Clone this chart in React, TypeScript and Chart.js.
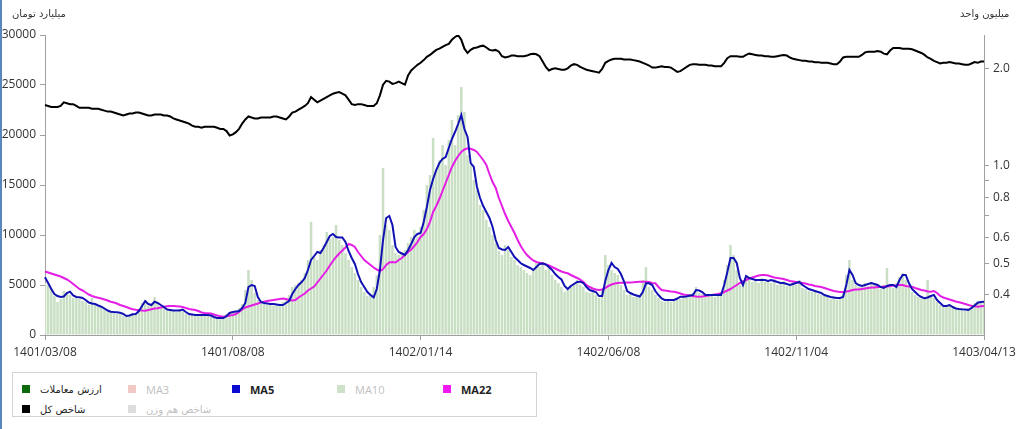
import React, { useEffect, useRef } from "react";
import { Chart, registerables } from "chart.js";

Chart.register(...registerables);

// X-axis tick labels (Jalali dates), evenly spaced over the series
const tickLabels = ["1401/03/08", "1401/08/08", "1402/01/14", "1402/06/08", "1402/11/04", "1403/04/13"];

// Trading value (billion toman)
const tradeValue = [
  5200, 5000, 4700, 3900, 3300, 3600, 4400, 4300, 4000, 3700,
  3900, 3600, 3400, 3300, 3000, 3700, 3000, 2800, 2700, 2600,
  2300, 2400, 2200, 2100, 2300, 1900, 1800, 2000, 2200, 2000,
  2600, 3200, 3500, 2900, 3100, 3800, 3300, 2800, 2700, 2400,
  2600, 2500, 2300, 2600, 2400, 2100, 2000, 2100, 1900, 2100,
  2000, 1900, 2100, 1800, 1700, 1700, 1600, 1800, 2100, 2300,
  2400, 2300, 2700, 3100, 4500, 6500, 5500, 4200, 3500, 3100,
  3300, 3000, 3200, 2900, 3100, 3000, 3300, 3500, 4000, 4800,
  5000, 5200, 5500, 6200, 7500, 11300, 7800, 7500, 8500, 9000,
  10300, 9600, 9800, 11000, 9500, 9000, 8200, 7500, 6800, 6200,
  5500, 4800, 4300, 3900, 4100, 4800, 6000, 10000, 16700, 11000,
  10500, 9000, 8200, 8000, 8300, 8500, 9200, 9800, 10500, 9800,
  10800, 12500, 15000, 16000, 19700, 16500, 17500, 19000, 17000, 19500,
  21500, 19000, 22000, 24800, 22300, 18000, 17000, 15500, 14500, 13000,
  12500, 11500, 10800, 10000, 9200, 8400, 8000, 9000, 8500, 7800,
  7500, 7000, 6800, 6500, 6200, 6000, 6500, 7200, 6800, 7300,
  6500, 6800, 6000, 5500, 5200, 4800, 4300, 4500, 5000, 5200,
  5500, 5000, 4800, 4300, 4200, 4400, 4000, 3700, 4500, 8000,
  7000, 6500, 6200, 6000, 5000, 4500, 4000, 4100, 3800, 3900,
  4000, 5500, 6800, 4800, 4500, 4000, 3700, 3400, 3300, 3600,
  3300, 3400, 3700, 3600, 3900, 3700, 4000, 4200, 4800, 4200,
  4100, 3800, 3900, 4100, 3800, 4000, 4200, 5500, 7000, 9000,
  8000, 6500, 5000, 5500, 6000, 5500, 5300, 5600, 5200, 5700,
  5300, 5500, 5200, 5600, 5000, 5100, 5400, 4900, 5000, 5300,
  5000, 5500, 4700, 4600, 4400, 4300, 4500, 4100, 4000, 3900,
  3800, 3600, 3700, 3500, 3800, 4200, 6000, 7500, 5500, 5000,
  4800, 5000, 5200, 4900, 5300, 5000, 4700, 4600, 5000, 6700,
  5000, 4700, 5200, 5800, 6200, 5500, 4800, 4300, 4000, 3800,
  3600, 3800, 5500, 4000, 3700, 3300, 3000, 2800, 3000, 2900,
  2700, 2600, 2500, 2600, 2400, 2700, 2900, 3200, 3400, 3200,
  3300,
];

// 5-day moving average of trading value
const ma5 = [
  5770, 5200, 4600, 4100, 3900, 3800, 3850, 4200, 4330, 3950,
  3800, 3770, 3700, 3500, 3250, 3150, 3100, 2950, 2830, 2650,
  2450, 2330, 2300, 2280, 2230, 2100, 1900, 1950, 2070, 2100,
  2400, 2900, 3400, 3100, 3000, 3330, 3200, 3000, 2800, 2550,
  2500, 2450, 2450, 2450, 2550, 2300, 2100, 2050, 2000, 2000,
  2000, 2000, 2000, 1950, 1800, 1700, 1700, 1700, 1900, 2200,
  2300, 2350, 2400, 2700, 3200, 4800, 5000, 4900, 3800, 3300,
  3200, 3150, 3100, 3100, 3050, 3000, 3000, 3200, 3400, 4100,
  4600, 5000, 5300, 5700, 6500, 7500, 7900, 8300, 8200, 8700,
  9300, 9900, 10100, 9800, 9750, 9750, 9300, 8400, 7700, 7100,
  6100, 5300, 4800, 4300, 4000, 3770, 4600, 6500, 9500, 11700,
  11900, 11000, 8800, 8300, 8150, 8000, 8500, 9100, 9800, 10100,
  10200, 11300, 12800, 14500, 15600, 16500, 17200, 17600, 17800, 18700,
  19600, 20300, 21100, 22000, 20600, 19800, 17200, 16800, 14800, 13700,
  12900, 12300, 11700, 10800, 9500, 8700, 8550, 8500, 8800, 8300,
  7800, 7500, 7170, 7000, 6850, 6700, 6500, 6800, 7100, 7150,
  7050, 6800, 6500, 6100, 5800, 5550, 4900, 4600, 4900, 5100,
  5300, 5330, 5200, 4800, 4500, 4400, 4300, 3900, 3900, 5400,
  6500, 7200, 6800, 6600, 6100, 5350, 4400, 4200, 4050, 3950,
  3850, 4300, 5170, 5170, 5000, 4400, 4000, 3650, 3500, 3500,
  3500, 3500, 3650, 3830, 3830, 3850, 3950, 4000, 4500, 4450,
  4300, 4000, 4000, 4000, 4000, 4000, 4000, 5000, 6300, 7700,
  7700, 7200, 5700, 5000, 5900, 5700, 5600, 5500, 5500, 5500,
  5500, 5400, 5500, 5400, 5300, 5200, 5200, 5100, 5000, 5100,
  5200, 5300, 5000, 4800, 4600, 4500, 4400, 4300, 4200, 4000,
  3900, 3800, 3750, 3700, 3700, 3800, 5000, 6500, 6000, 5200,
  5000, 4900, 5000, 5100, 5200, 5100, 5000, 4800, 4700, 4900,
  5000, 5000, 4800, 5500, 6000, 6000, 5200, 4600, 4300, 4000,
  3800, 3670, 3750, 3900, 4000, 3500, 3200, 2900, 2900, 3000,
  2800, 2650, 2600, 2570, 2550, 2500, 2700, 2950, 3230, 3300,
  3330,
];

// 22-day moving average of trading value
const ma22 = [
  6350, 6250, 6150, 6050, 5950, 5850, 5700, 5550, 5350, 5100,
  4850, 4600, 4450, 4250, 4050, 3900, 3800, 3730, 3650, 3550,
  3450, 3330, 3250, 3150, 3000, 2900, 2800, 2680, 2570, 2520,
  2480, 2450, 2430, 2500, 2580, 2640, 2680, 2750, 2820, 2870,
  2900, 2900, 2880, 2840, 2800, 2700, 2600, 2550, 2500, 2400,
  2250, 2200, 2180, 2150, 2050, 1950, 1880, 1830, 1880, 1950,
  2000, 2100, 2300, 2550, 2750, 2850, 2950, 3050, 3150, 3250,
  3330, 3400, 3450, 3500, 3550, 3600, 3650, 3600, 3500, 3450,
  3500, 3750, 3950, 4150, 4450, 4650, 4850, 5250, 5650, 6050,
  6450, 6950, 7400, 7800, 8150, 8450, 8750, 9100, 9000, 8800,
  8300, 7900, 7500, 7250, 7000, 6750, 6550, 6400, 6600, 7000,
  7250, 7300, 7250, 7500, 7700, 8000, 8300, 8550, 8900, 9300,
  9800, 10100, 10600, 11300, 12300, 12900, 13600, 14400, 15200, 16000,
  16800, 17400, 17900, 18300, 18550, 18670, 18620, 18500, 18300, 17900,
  17500, 17000, 16100, 15300, 14700, 13700, 12900, 12100, 11400, 10800,
  10200, 9500, 8900, 8400, 8000, 7700, 7450, 7300, 7220, 7180,
  7050, 6950, 6800, 6650, 6500, 6350, 6250, 6170, 6000, 5850,
  5700, 5550, 5300, 5000, 4800, 4650, 4550, 4500, 4550, 4700,
  4900, 5050, 5150, 5200, 5220, 5230, 5250, 5250, 5270, 5300,
  5320, 5330, 5330, 5300, 5200, 5170, 4800, 4500, 4450, 4400,
  4350, 4330, 4250, 4150, 4050, 4000, 3950, 3900, 3850, 3830,
  3850, 3900, 3950, 4000, 4050, 4100, 4170, 4300, 4450, 4600,
  4800, 5000, 5200, 5350, 5500, 5650, 5750, 5850, 5950, 6000,
  6000, 5950, 5850, 5750, 5700, 5650, 5600, 5500, 5400, 5350,
  5300, 5250, 5200, 5150, 5050, 5000, 4900, 4850, 4800, 4700,
  4600, 4500, 4400, 4350, 4300, 4300, 4350, 4400, 4500, 4550,
  4550, 4600, 4650, 4700, 4750, 4750, 4800, 4800, 4850, 4850,
  4900, 4950, 4950, 5000, 5000, 4900, 4850, 4830, 4700, 4600,
  4500, 4450, 4350, 4330, 4400, 4200, 3900, 3750, 3650, 3550,
  3450, 3350, 3280, 3200, 3100, 3000, 2920, 2870, 2830, 2870,
  2900,
];

// Total market index (million units), right log axis
const totalIndex = [
  1.54, 1.53, 1.52, 1.52, 1.52, 1.53, 1.57, 1.56, 1.55, 1.55,
  1.53, 1.51, 1.51, 1.51, 1.51, 1.50, 1.50, 1.50, 1.49, 1.48,
  1.47, 1.47, 1.46, 1.45, 1.44, 1.43, 1.44, 1.45, 1.45, 1.46,
  1.46, 1.45, 1.44, 1.43, 1.43, 1.44, 1.44, 1.44, 1.43, 1.43,
  1.42, 1.40, 1.39, 1.38, 1.37, 1.36, 1.35, 1.33, 1.32, 1.32,
  1.31, 1.32, 1.32, 1.32, 1.32, 1.31, 1.30, 1.30, 1.28, 1.24,
  1.25, 1.27, 1.30, 1.35, 1.39, 1.42, 1.41, 1.40, 1.40, 1.41,
  1.41, 1.41, 1.41, 1.42, 1.42, 1.41, 1.40, 1.39, 1.42, 1.46,
  1.47, 1.49, 1.51, 1.53, 1.56, 1.63, 1.60, 1.57, 1.59, 1.61,
  1.63, 1.65, 1.67, 1.68, 1.69, 1.67, 1.65, 1.60, 1.55, 1.54,
  1.55, 1.55, 1.54, 1.53, 1.53, 1.53, 1.56, 1.65, 1.78, 1.83,
  1.82, 1.79, 1.80, 1.82, 1.80, 1.78, 1.90, 1.97, 2.01, 2.05,
  2.08, 2.12, 2.17, 2.20, 2.24, 2.28, 2.30, 2.33, 2.36, 2.38,
  2.45, 2.50, 2.53, 2.45, 2.30, 2.23, 2.28, 2.31, 2.32, 2.34,
  2.35, 2.32, 2.28, 2.27, 2.28, 2.25, 2.18, 2.16, 2.17, 2.19,
  2.19, 2.18, 2.18, 2.18, 2.19, 2.21, 2.22, 2.21, 2.18, 2.10,
  2.02, 1.97, 1.99, 2.00, 1.99, 1.98, 1.98, 2.00, 2.04, 2.06,
  2.05, 2.02, 2.00, 1.98, 1.97, 1.96, 1.95, 1.94, 1.99, 2.08,
  2.11, 2.13, 2.14, 2.14, 2.14, 2.13, 2.13, 2.13, 2.12, 2.11,
  2.10, 2.08, 2.06, 2.04, 2.01, 2.01, 2.02, 2.03, 2.02, 2.02,
  2.01, 1.98, 1.95, 1.96, 1.99, 2.02, 2.05, 2.06, 2.06, 2.05,
  2.05, 2.05, 2.04, 2.04, 2.03, 2.03, 2.03, 2.08, 2.15, 2.18,
  2.18, 2.18, 2.17, 2.17, 2.20, 2.22, 2.21, 2.20, 2.19, 2.19,
  2.18, 2.18, 2.17, 2.17, 2.18, 2.19, 2.20, 2.19, 2.16, 2.14,
  2.13, 2.12, 2.11, 2.11, 2.10, 2.10, 2.09, 2.09, 2.08, 2.08,
  2.08, 2.07, 2.06, 2.06, 2.10, 2.16, 2.17, 2.17, 2.17, 2.17,
  2.17, 2.20, 2.24, 2.25, 2.25, 2.25, 2.26, 2.25, 2.22, 2.21,
  2.27, 2.31, 2.31, 2.31, 2.30, 2.30, 2.30, 2.29, 2.27, 2.25,
  2.23, 2.20, 2.16, 2.14, 2.11, 2.09, 2.07, 2.08, 2.08, 2.09,
  2.08, 2.07, 2.07, 2.06, 2.05, 2.05, 2.07, 2.09, 2.08, 2.10,
  2.10,
];

// Right (log) axis ticks and which of them carry a label
const rightTicks = [0.4, 0.5, 0.6, 0.7, 0.8, 0.9, 1.0, 2.0];
const rightTickLabels = [0.4, 0.5, 0.6, 0.8, 1.0, 2.0];

const categories = tradeValue.map((_, i) => i);
const TICK_STEP = (categories.length - 1) / (tickLabels.length - 1);

const FONT = "'Open Sans', 'DejaVu Sans', sans-serif";
const FA_FONT = "'DejaVu Sans', 'Noto Sans', sans-serif";

type LegendItem = { label: string; color: string; active: boolean; x: number; y: number; latin: boolean };
const legendItems: LegendItem[] = [
  { label: "ارزش معاملات", color: "#0b6b0b", active: true, x: 9, y: 10, latin: false },
  { label: "MA3", color: "#f3c9c6", active: false, x: 115, y: 10, latin: true },
  { label: "MA5", color: "#0a0ad0", active: true, x: 219, y: 10, latin: true },
  { label: "MA10", color: "#cde2c9", active: false, x: 324, y: 10, latin: true },
  { label: "MA22", color: "#f01af0", active: true, x: 430, y: 10, latin: true },
  { label: "شاخص کل", color: "#000000", active: true, x: 9, y: 30, latin: false },
  { label: "شاخص هم وزن", color: "#dddddd", active: false, x: 115, y: 30, latin: false },
];

export default function App() {
  const ref = useRef<HTMLCanvasElement>(null);

  useEffect(() => {
    if (!ref.current) return;
    const tickFont = { family: FONT, size: 12 };
    const chart = new Chart(ref.current, {
      type: "bar",
      data: {
        labels: categories,
        datasets: [
          {
            type: "line",
            label: "شاخص کل",
            data: totalIndex,
            yAxisID: "yR",
            borderColor: "#000000",
            borderWidth: 2,
            pointRadius: 0,
            tension: 0,
            order: 0,
          } as any,
          {
            type: "line",
            label: "MA5",
            data: ma5,
            yAxisID: "y",
            borderColor: "#1212b4",
            borderWidth: 2,
            pointRadius: 0,
            tension: 0,
            order: 1,
          } as any,
          {
            type: "line",
            label: "MA22",
            data: ma22,
            yAxisID: "y",
            borderColor: "#e41ee4",
            borderWidth: 2,
            pointRadius: 0,
            tension: 0,
            order: 2,
          } as any,
          {
            type: "bar",
            label: "ارزش معاملات",
            data: tradeValue,
            yAxisID: "y",
            backgroundColor: "#c9dfc4",
            barPercentage: 0.8,
            categoryPercentage: 1,
            order: 10,
          } as any,
        ],
      },
      options: {
        animation: false,
        responsive: false,
        devicePixelRatio: 1,
        layout: { padding: { top: 35, left: 0, right: 0, bottom: 0 } },
        plugins: { legend: { display: false }, tooltip: { enabled: false } },
        scales: {
          x: {
            offset: false,
            grid: { display: true, offset: false, drawOnChartArea: false, drawTicks: true, tickLength: 5, color: "#a0a0a0" },
            border: { display: true, color: "#a0a0a0" },
            ticks: {
              autoSkip: false,
              maxRotation: 0,
              minRotation: 0,
              padding: 5,
              color: "#333",
              font: tickFont,
              callback: (_v: any, i: number) => (i % TICK_STEP === 0 ? tickLabels[i / TICK_STEP] : null),
            },
            afterFit: (s: any) => {
              s.height = 30;
            },
          },
          y: {
            position: "left",
            min: 0,
            max: 30000,
            grid: { display: true, drawOnChartArea: false, tickLength: 5, color: "#a0a0a0" },
            border: { display: true, color: "#a0a0a0" },
            ticks: {
              stepSize: 5000,
              padding: 4,
              color: "#333",
              font: tickFont,
              callback: (v: any) => String(v),
            },
            afterFit: (s: any) => {
              s.width = 45;
            },
          },
          yR: {
            type: "logarithmic",
            position: "right",
            min: 0.318,
            max: 2.535,
            grid: { display: true, drawOnChartArea: false, tickLength: 5, color: "#a0a0a0" },
            border: { display: true, color: "#a0a0a0" },
            afterBuildTicks: (s: any) => {
              s.ticks = rightTicks.map((v) => ({ value: v }));
            },
            ticks: {
              padding: 4,
              color: "#333",
              font: tickFont,
              callback: (v: any) => (rightTickLabels.includes(Number(v)) ? Number(v).toFixed(1) : ""),
            },
            afterFit: (s: any) => {
              s.width = 40;
            },
          },
        },
      } as any,
    });
    return () => chart.destroy();
  }, []);

  return (
    <div
      style={{
        position: "fixed",
        left: 0,
        top: 0,
        width: 1024,
        height: 429,
        background: "#ffffff",
        overflow: "hidden",
        fontFamily: FONT,
      }}
    >
      <div style={{ position: "absolute", left: 0, top: 0, width: 2, height: 429, background: "#5a87bb" }} />
      <canvas ref={ref} width={1024} height={365} style={{ position: "absolute", left: 0, top: 0 }} />
      <div
        dir="rtl"
        style={{ position: "absolute", left: 12, top: 8, fontFamily: FA_FONT, fontSize: 10, color: "#333", whiteSpace: "nowrap" }}
      >
        میلیارد تومان
      </div>
      <div
        dir="rtl"
        style={{ position: "absolute", left: 960, top: 8, fontFamily: FA_FONT, fontSize: 10, color: "#333", whiteSpace: "nowrap" }}
      >
        میلیون واحد
      </div>
      <div
        style={{
          position: "absolute",
          left: 12,
          top: 372,
          width: 525,
          height: 45,
          border: "1px solid #d4d4d4",
          boxSizing: "border-box",
        }}
      >
        {legendItems.map((it) => (
          <div
            key={it.label}
            style={{
              position: "absolute",
              left: it.x,
              top: it.y,
              height: 12,
              display: "flex",
              alignItems: "center",
              whiteSpace: "nowrap",
            }}
          >
            <span style={{ display: "inline-block", width: 8, height: 8, background: it.color, marginRight: 10 }} />
            <span
              dir={it.latin ? "ltr" : "rtl"}
              style={{
                fontFamily: it.latin ? FONT : FA_FONT,
                fontSize: it.latin ? 11 : 10,
                fontWeight: it.active && it.latin ? 700 : 400,
                color: it.active ? "#222" : "#c0c0c0",
              }}
            >
              {it.label}
            </span>
          </div>
        ))}
      </div>
    </div>
  );
}
